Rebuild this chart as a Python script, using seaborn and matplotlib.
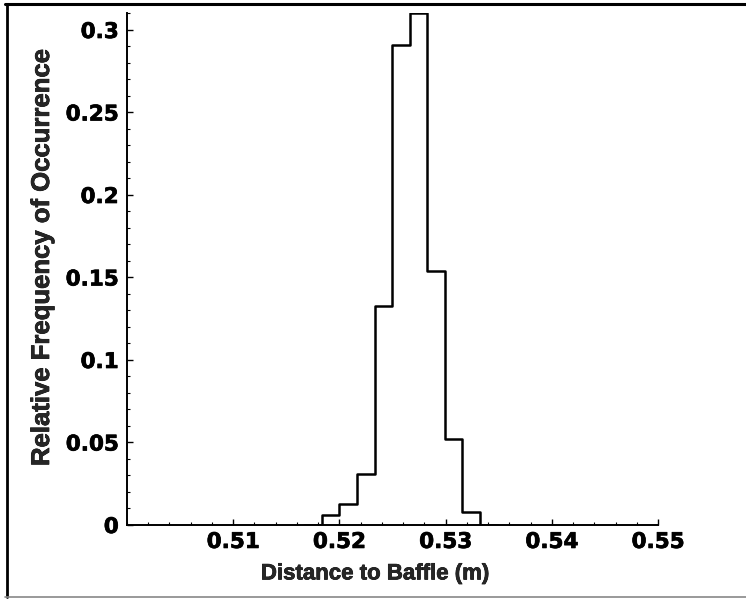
import numpy as np
import pandas as pd
import matplotlib
matplotlib.use("Agg")
import matplotlib.pyplot as plt
import matplotlib.patheffects as pe
from matplotlib.ticker import MultipleLocator, FuncFormatter
from matplotlib.lines import Line2D
import seaborn as sns

# ---- data ----
bin_left = 0.51835          # left edge of first non-empty bin (m)
bin_width = 0.001654        # bin width (m)
rel_freq = [0.006, 0.013, 0.031, 0.133, 0.291, 0.310, 0.154, 0.052, 0.008]
x_ticks = [0.51, 0.52, 0.53, 0.54, 0.55]
y_ticks = [0, 0.05, 0.1, 0.15, 0.2, 0.25, 0.3]
x_label = "Distance to Baffle (m)"
y_label = "Relative Frequency of Occurrence"

# pad one empty bin on each side so the outline drops to the baseline
heights = [0.0] + rel_freq + [0.0]
n = len(heights)
edges = [float(bin_left + bin_width * (i - 1)) for i in range(n + 1)]
centers = [(edges[i] + edges[i + 1]) / 2 for i in range(n)]
df = pd.DataFrame({"x": centers, "w": heights})

sns.set_style("ticks")
W, H = 746, 599
fig = plt.figure(figsize=(W / 100, H / 100), dpi=100)
ax = fig.add_axes([127 / W, 1 - 525 / H, (658 - 127) / W, (525 - 13) / H])

sns.histplot(data=df, x="x", weights="w", bins=edges, element="step",
             fill=False, color="black", linewidth=1.8, ax=ax)

ax.set_xlim(0.50, 0.55)
ax.set_ylim(0, 0.3103)
ax.set_xticks(x_ticks)
ax.set_yticks(y_ticks)
ax.xaxis.set_minor_locator(MultipleLocator(0.002))
ax.yaxis.set_minor_locator(MultipleLocator(0.01))
ax.xaxis.set_major_formatter(FuncFormatter(lambda v, p: f"{v:.2f}"))
ax.yaxis.set_major_formatter(FuncFormatter(lambda v, p: "0" if v == 0 else f"{v:g}"))

for s in ["top", "right"]:
    ax.spines[s].set_visible(False)
for s in ["left", "bottom"]:
    ax.spines[s].set_linewidth(1.4)
    ax.spines[s].set_color("black")

ax.tick_params(which="major", direction="in", length=4, width=1, colors="black",
               top=False, right=False)
ax.tick_params(which="minor", direction="in", length=2, width=0.8, colors="black",
               top=False, right=False)
ax.tick_params(axis="y", which="major", pad=6)
ax.tick_params(axis="x", which="major", pad=5)

heavy = [pe.withStroke(linewidth=0.5, foreground="black")]
for lab in ax.get_xticklabels() + ax.get_yticklabels():
    lab.set_fontfamily("DejaVu Sans")
    lab.set_fontweight("bold")
    lab.set_fontsize(15.5)
    lab.set_path_effects(heavy)

ax.set_xlabel(x_label, fontfamily="Liberation Sans", fontweight="bold", fontsize=16,
              path_effects=heavy)
ax.set_ylabel(y_label, fontfamily="Liberation Sans", fontweight="bold", fontsize=18.5,
              path_effects=heavy)
ax.xaxis.set_label_coords((375 - 127) / 531, -0.075)
ax.yaxis.set_label_coords((54 - 127) / 531, (525 - 257) / 512)

# figure frame as in the scanned page
fig.add_artist(Line2D([5 / W, 1.0], [1 - 4 / H, 1 - 4 / H], color="black", lw=2.2,
                      transform=fig.transFigure))
fig.add_artist(Line2D([7 / W, 7 / W], [1 - 4 / H, 1 - 597 / H], color="black", lw=2.0,
                      transform=fig.transFigure))
fig.add_artist(Line2D([5 / W, 1.0], [1 - 597 / H, 1 - 597 / H], color="#888888", lw=1.2,
                      transform=fig.transFigure))

fig.savefig("out.png", dpi=100)
